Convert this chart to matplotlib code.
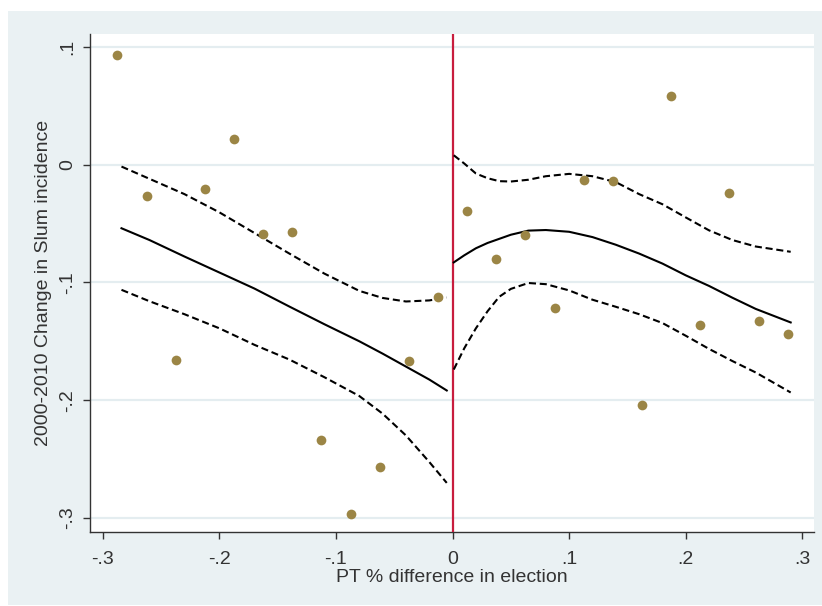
import matplotlib
matplotlib.use("Agg")
import matplotlib.pyplot as plt
from matplotlib.patches import Rectangle

plt.rcParams['font.family'] = ['Liberation Sans', 'DejaVu Sans']

# Binned scatter points
bin_x = [-0.2875, -0.2625, -0.2375, -0.2125, -0.1875, -0.1625, -0.1375, -0.1125,
         -0.0875, -0.0625, -0.0375, -0.0125,
         0.0125, 0.0375, 0.0625, 0.0875, 0.1125, 0.1375, 0.1625, 0.1875,
         0.2125, 0.2375, 0.2625, 0.2875]
bin_y = [0.093, -0.027, -0.166, -0.021, 0.022, -0.059, -0.057, -0.234,
         -0.297, -0.257, -0.167, -0.112,
         -0.039, -0.080, -0.060, -0.122, -0.013, -0.014, -0.204, 0.058,
         -0.136, -0.024, -0.133, -0.144]

# Left-side fit and confidence band
left_x = [-0.284, -0.26, -0.23, -0.2, -0.17, -0.14, -0.11, -0.08, -0.06, -0.04, -0.02, -0.005]
left_fit = [-0.054, -0.064, -0.078, -0.0916, -0.1052, -0.1205, -0.1355, -0.150,
            -0.1605, -0.1715, -0.1825, -0.1918]
left_hi = [-0.0016, -0.012, -0.025, -0.0405, -0.058, -0.0755, -0.0925, -0.1072,
           -0.1132, -0.1162, -0.1153, -0.1128]
left_lo = [-0.1063, -0.116, -0.127, -0.139, -0.153, -0.1655, -0.1805, -0.1965,
           -0.2115, -0.230, -0.2525, -0.2703]

# Right-side fit and confidence band
right_x = [0.001, 0.01, 0.02, 0.03, 0.04, 0.05, 0.065, 0.08, 0.1, 0.12, 0.14, 0.16,
           0.18, 0.2, 0.22, 0.24, 0.26, 0.29]
right_fit = [-0.083, -0.077, -0.071, -0.0665, -0.063, -0.0595, -0.056, -0.0555, -0.057,
             -0.0615, -0.068, -0.0755, -0.084, -0.094, -0.103, -0.113, -0.1225, -0.134]
right_hi = [0.008, 0.001, -0.0075, -0.0115, -0.014, -0.0143, -0.0128, -0.0098, -0.0078,
            -0.0098, -0.0148, -0.025, -0.0336, -0.0448, -0.0558, -0.064, -0.0695, -0.074]
right_lo = [-0.174, -0.156, -0.139, -0.1245, -0.1122, -0.1055, -0.1005, -0.1015, -0.1068,
            -0.1147, -0.1207, -0.127, -0.1345, -0.1453, -0.1565, -0.1668, -0.1765, -0.1935]

x_ticks = [-0.3, -0.2, -0.1, 0, 0.1, 0.2, 0.3]
x_ticklabels = ['-.3', '-.2', '-.1', '0', '.1', '.2', '.3']
y_ticks = [0.1, 0, -0.1, -0.2, -0.3]
y_ticklabels = ['.1', '0', '-.1', '-.2', '-.3']

W, H = 822, 606
fig = plt.figure(figsize=(W / 100, H / 100), dpi=100, facecolor='white')
bg = '#eaf1f3'
fig.patches.append(Rectangle((8 / W, 1 - 605 / H), (W - 8) / W, (605 - 11) / H,
                             transform=fig.transFigure, facecolor=bg,
                             edgecolor='none', zorder=-10))

ax = fig.add_axes([90 / W, 1 - 532 / H, (814 - 90) / W, (532 - 34) / H])
ax.set_zorder(1)
ax.set_facecolor('white')
ax.set_xlim(-0.311, 0.31)
ax.set_ylim(-0.312, 0.111)

text_c = '#333333'
for y in y_ticks:
    ax.axhline(y, color='#e4edf0', lw=1.6, zorder=1)

ax.axvline(0, color='#c81d3e', lw=1.6, zorder=3)

dash = (0, (3.4, 1.8))
ax.plot(left_x, left_fit, color='black', lw=1.5, zorder=4)
ax.plot(left_x, left_hi, color='black', lw=1.5, ls=dash, zorder=4)
ax.plot(left_x, left_lo, color='black', lw=1.5, ls=dash, zorder=4)
ax.plot(right_x, right_fit, color='black', lw=1.5, zorder=4)
ax.plot(right_x, right_hi, color='black', lw=1.5, ls=dash, zorder=4)
ax.plot(right_x, right_lo, color='black', lw=1.5, ls=dash, zorder=4)

ax.plot(bin_x, bin_y, 'o', color='#9b8545', markersize=7, markeredgewidth=0, zorder=5)

for s in ['top', 'right']:
    ax.spines[s].set_visible(False)
for s in ['left', 'bottom']:
    ax.spines[s].set_color('#333333')
    ax.spines[s].set_linewidth(1.0)

ax.set_xticks(x_ticks)
ax.set_xticklabels(x_ticklabels)
ax.set_yticks(y_ticks)
ax.set_yticklabels(y_ticklabels, rotation=90, va='center')
ax.tick_params(axis='both', direction='out', length=5, width=1, color='#333333',
               labelcolor=text_c, labelsize=14)
ax.tick_params(axis='x', pad=9)
ax.tick_params(axis='y', pad=5)

ax.set_xlabel('PT % difference in election', fontsize=14, color=text_c, labelpad=0.5)
ax.set_ylabel('2000-2010 Change in Slum incidence', fontsize=14, color=text_c, labelpad=5)

fig.savefig('out.png', dpi=100, facecolor='white')
